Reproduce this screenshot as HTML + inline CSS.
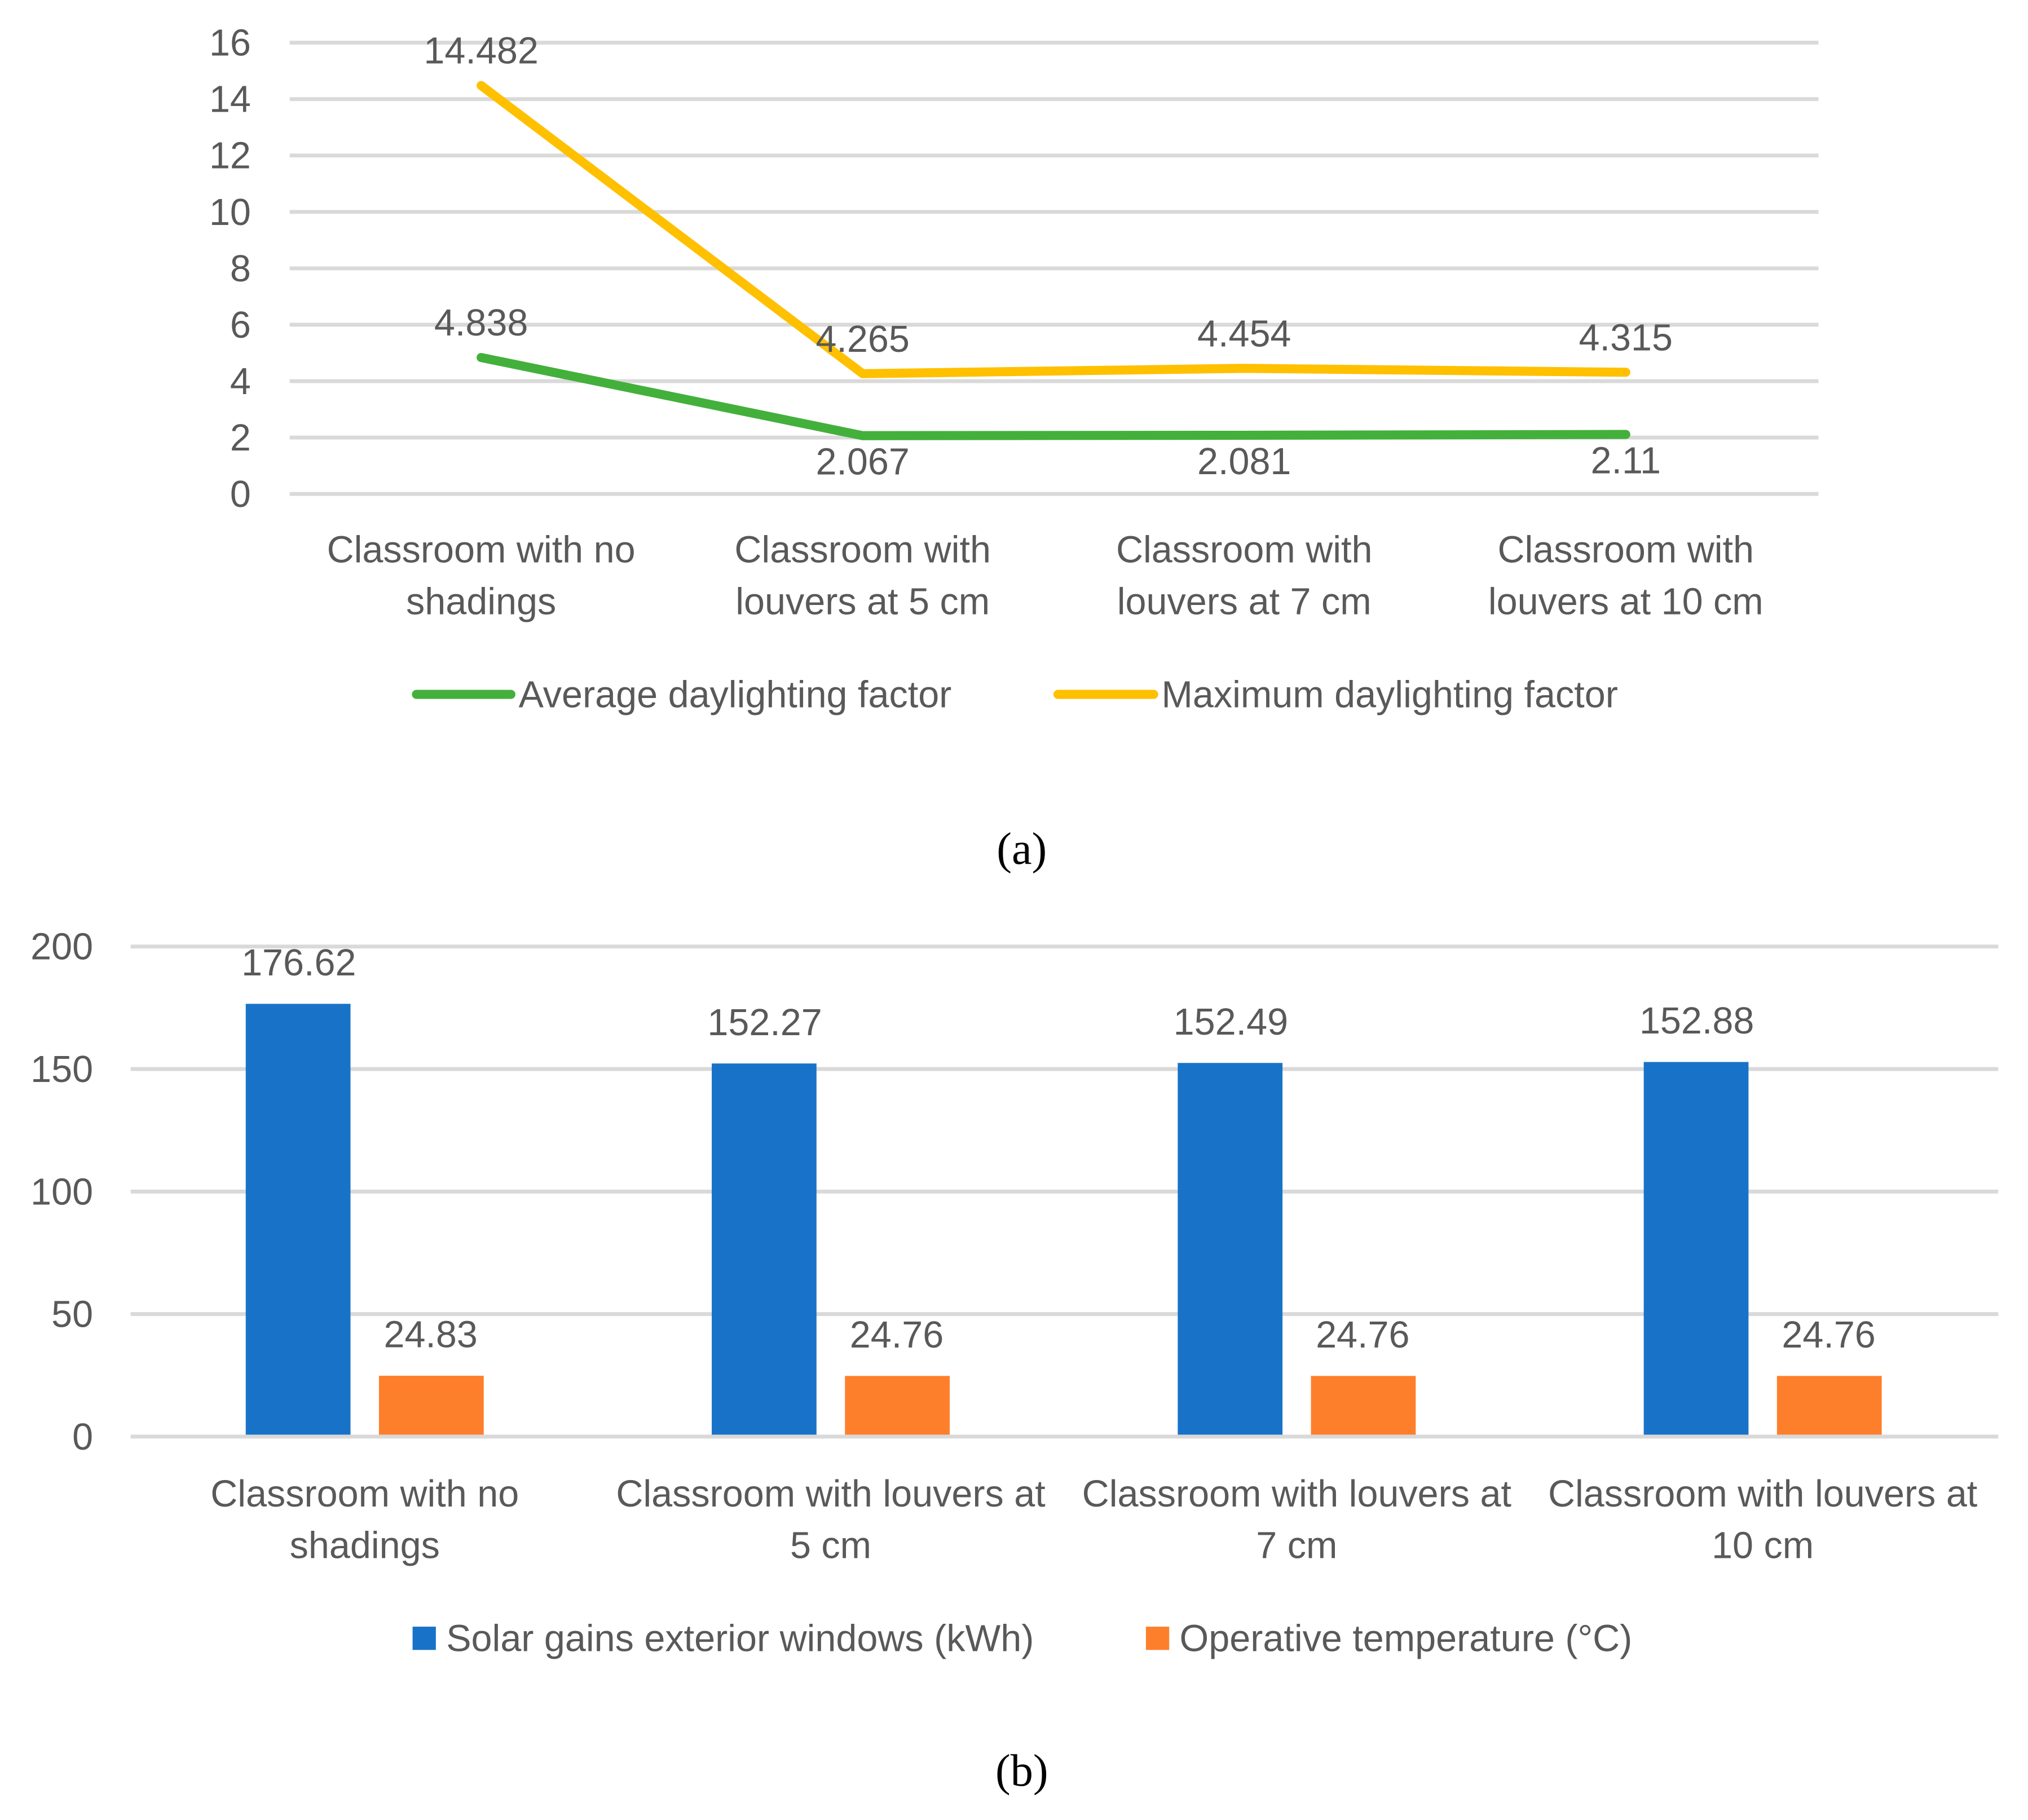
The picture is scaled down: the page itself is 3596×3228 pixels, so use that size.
<!DOCTYPE html>
<html><head><meta charset="utf-8"><style>
html,body{margin:0;padding:0;background:#fff;}
svg{display:block;}
text{font-family:"Liberation Sans",sans-serif;fill:#595959;}
</style></head><body>
<svg id="root" width="3596" height="3228" viewBox="0 0 1568 1407.5" xmlns="http://www.w3.org/2000/svg">
<g id="ca"></g>
<text x="790" y="668" text-anchor="middle" font-size="35" style="font-family:'Liberation Serif',serif;fill:#000">(a)</text>
<g id="cb"></g>
<text x="790" y="1381" text-anchor="middle" font-size="35" style="font-family:'Liberation Serif',serif;fill:#000">(b)</text>
</svg>
<script>
const NS="http://www.w3.org/2000/svg";
const lineCats=[["Classroom with no","shadings"],["Classroom with","louvers at 5 cm"],["Classroom with","louvers at 7 cm"],["Classroom with","louvers at 10 cm"]];
const avgDF=[4.838,2.067,2.081,2.11];
const maxDF=[14.482,4.265,4.454,4.315];
const lineTicks=[0,2,4,6,8,10,12,14,16];
const barCats=[["Classroom with no","shadings"],["Classroom with louvers at","5 cm"],["Classroom with louvers at","7 cm"],["Classroom with louvers at","10 cm"]];
const solarGains=[176.62,152.27,152.49,152.88];
const opTemp=[24.83,24.76,24.76,24.76];
const barTicks=[0,50,100,150,200];
const FS=29;

function mk(parent,tag,attrs,txt){const e=document.createElementNS(NS,tag);for(const k in attrs)e.setAttribute(k,attrs[k]);if(txt!==undefined)e.textContent=txt;parent.appendChild(e);return e;}

// Chart A
const ga=document.getElementById('ca');
const ay=v=>382-(v/16)*349;
const ax=i=>372+i*295;
lineTicks.forEach(t=>{
  const l=mk(ga,'line',{x1:224,x2:1406,y1:ay(t),y2:ay(t),stroke:'#d9d9d9','stroke-width':3});
  
  
  const tx=mk(ga,'text',{x:194,y:ay(t)+10,'text-anchor':'end','font-size':FS},String(t));
  
  
});
lineCats.forEach((c,i)=>{c.forEach((s,j)=>{
  const t=mk(ga,'text',{x:ax(i),y:435+j*40,'text-anchor':'middle','font-size':FS},s);
  
  
});});
function series(arr,color,name,below){
  const p=mk(ga,'polyline',{points:arr.map((v,i)=>ax(i)+','+ay(v)).join(' '),fill:'none',stroke:color,'stroke-width':7,'stroke-linecap':'round','stroke-linejoin':'round'});
  
  
  arr.forEach((v,i)=>{
    const b=below(i);
    const t=mk(ga,'text',{x:ax(i),y:b?ay(v)+30:ay(v)-17,'text-anchor':'middle','font-size':FS},String(v));
    
    
  });
}
series(avgDF,'#43b03b','average-daylighting-line',i=>i>0);
series(maxDF,'#ffc000','maximum-daylighting-line',i=>false);
[[322,395,401,'#43b03b','Average daylighting factor'],[818,892,898,'#ffc000','Maximum daylighting factor']].forEach(d=>{
  const l=mk(ga,'line',{x1:d[0],x2:d[1],y1:537,y2:537,stroke:d[3],'stroke-width':7,'stroke-linecap':'round'});
  
  
  const t=mk(ga,'text',{x:d[2],y:547,'font-size':FS},d[4]);
  
  
});

// Chart B
const gb=document.getElementById('cb');
const by=v=>1111-(v/200)*379;
const bx=i=>282+i*360.3;
barTicks.forEach(t=>{
  const l=mk(gb,'line',{x1:101,x2:1545,y1:by(t),y2:by(t),stroke:'#d9d9d9','stroke-width':3});
  
  
  const tx=mk(gb,'text',{x:72,y:by(t)+10,'text-anchor':'end','font-size':FS},String(t));
  
  
});
solarGains.forEach((v,i)=>{
  const r=mk(gb,'rect',{x:bx(i)-92,y:by(v),width:81,height:by(0)-by(v)-1.5,fill:'#1873c8'});
  
  
  const t=mk(gb,'text',{x:bx(i)-51,y:by(v)-22,'text-anchor':'middle','font-size':FS},v.toFixed(2));
  
  
});
opTemp.forEach((v,i)=>{
  const r=mk(gb,'rect',{x:bx(i)+11,y:by(v),width:81,height:by(0)-by(v)-1.5,fill:'#fe7f2b'});
  
  
  const t=mk(gb,'text',{x:bx(i)+51,y:by(v)-22,'text-anchor':'middle','font-size':FS},v.toFixed(2));
  
  
});
barCats.forEach((c,i)=>{c.forEach((s,j)=>{
  const t=mk(gb,'text',{x:bx(i),y:1165+j*40,'text-anchor':'middle','font-size':FS},s);
  
  
});});
[[319,345,'#1873c8','Solar gains exterior windows (kWh)'],[886,912,'#fe7f2b','Operative temperature (°C)']].forEach(d=>{
  const r=mk(gb,'rect',{x:d[0],y:1258,width:18,height:18,fill:d[2]});
  
  
  const t=mk(gb,'text',{x:d[1],y:1277,'font-size':FS},d[3]);
  
  
});
</script>
</body></html>
